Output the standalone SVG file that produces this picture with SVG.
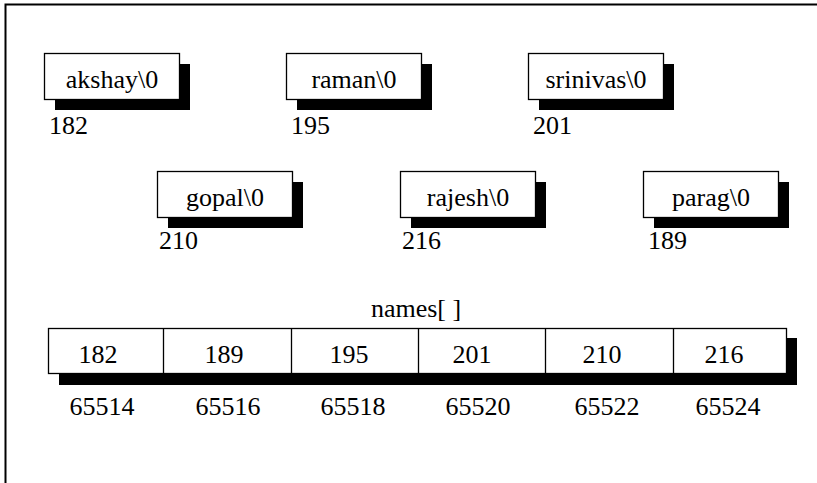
<svg xmlns="http://www.w3.org/2000/svg" width="817" height="483" viewBox="0 0 817 483">
<style>
text{font-family:'Liberation Serif','Times New Roman',Times,'DejaVu Serif',serif;font-size:26px;fill:#000}
.box{fill:#fff;stroke:#000;stroke-width:1.3}
.sh{fill:#000}
.c{text-anchor:middle}
</style>
<rect x="0" y="0" width="817" height="483" fill="#fff"/>
<path d="M5.5,484 V4.5 H818" fill="none" stroke="#000" stroke-width="2"/>
<g id="akshay">
<rect class="sh" x="55" y="64" width="135" height="46"/>
<rect class="box" x="44.5" y="53.5" width="135" height="46"/>
<text class="c" x="112" y="88" font-family="Liberation Serif, serif">akshay\0</text>
<text x="49" y="134">182</text>
</g>
<g id="raman">
<rect class="sh" x="297" y="64" width="135" height="46"/>
<rect class="box" x="286.5" y="53.5" width="135" height="46"/>
<text class="c" x="354" y="88">raman\0</text>
<text x="291" y="134">195</text>
</g>
<g id="srinivas">
<rect class="sh" x="539" y="64" width="135" height="46"/>
<rect class="box" x="528.5" y="53.5" width="135" height="46"/>
<text class="c" x="596" y="88">srinivas\0</text>
<text x="533" y="134">201</text>
</g>
<g id="gopal">
<rect class="sh" x="168" y="182" width="135" height="46"/>
<rect class="box" x="157.5" y="171.5" width="135" height="46"/>
<text class="c" x="225" y="206">gopal\0</text>
<text x="159" y="249">210</text>
</g>
<g id="rajesh">
<rect class="sh" x="411" y="182" width="135" height="46"/>
<rect class="box" x="400.5" y="171.5" width="135" height="46"/>
<text class="c" x="468" y="206">rajesh\0</text>
<text x="402" y="249">216</text>
</g>
<g id="parag">
<rect class="sh" x="654" y="182" width="135" height="46"/>
<rect class="box" x="643.5" y="171.5" width="135" height="46"/>
<text class="c" x="711" y="206">parag\0</text>
<text x="648" y="249">189</text>
</g>
<g id="names">
<text class="c" x="416" y="317">names[ ]</text>
<rect class="sh" x="59" y="338" width="738" height="47"/>
<rect class="box" x="48.5" y="328.5" width="738" height="45"/>
<path d="M163.5,328.5V373.5M291.5,328.5V373.5M418.5,328.5V373.5M545.5,328.5V373.5M673.5,328.5V373.5" stroke="#000" stroke-width="1.3" fill="none"/>
<text class="c" x="98" y="363">182</text>
<text class="c" x="224" y="363">189</text>
<text class="c" x="349" y="363">195</text>
<text class="c" x="472" y="363">201</text>
<text class="c" x="602" y="363">210</text>
<text class="c" x="724" y="363">216</text>
<text class="c" x="102" y="415">65514</text>
<text class="c" x="228" y="415">65516</text>
<text class="c" x="353" y="415">65518</text>
<text class="c" x="478" y="415">65520</text>
<text class="c" x="607" y="415">65522</text>
<text class="c" x="728" y="415">65524</text>
</g>
<g id="connectors"></g>
</svg>
